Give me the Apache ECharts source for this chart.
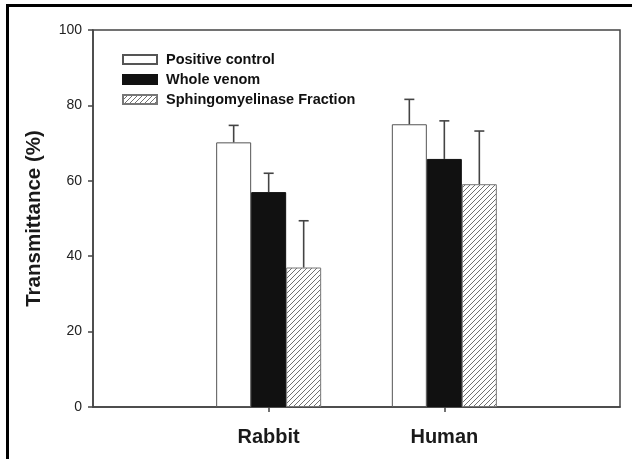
<!DOCTYPE html>
<html>
<head>
<meta charset="utf-8">
<script src="https://cdn.jsdelivr.net/npm/echarts@6/dist/echarts.min.js"></script>
<style>
  html, body { margin: 0; padding: 0; background: #fff; }
  #frame { position: absolute; left: 6px; top: 4px; width: 640px; height: 470px;
           border-left: 3px solid #000; border-top: 3px solid #000; }
  #chart { position: absolute; left: 0; top: 0; width: 632px; height: 459px; }
</style>
</head>
<body>
<div id="frame"></div>
<div id="chart"></div>
<script>
// groups on the x axis
const categories = ['Rabbit', 'Human'];
const seriesNames = ['Positive control', 'Whole venom', 'Sphingomyelinase Fraction'];
// means (%) per group
const positiveControl = [70.2, 75.0];
const wholeVenom = [57.0, 65.8];
const sphingoFraction = [37.0, 59.1];
// upper error (SD)
const positiveControlErr = [4.5, 6.6];
const wholeVenomErr = [5.0, 10.1];
const sphingoFractionErr = [12.4, 14.1];
const yTicks = [0, 20, 40, 60, 80, 100];

const barW = 35;

// diagonal hatch pattern for the fraction bars
function hatch() {
    const c = document.createElement('canvas');
    c.width = 5; c.height = 5;
    const ctx = c.getContext('2d');
    ctx.fillStyle = '#fff';
    ctx.fillRect(0, 0, 5, 5);
    ctx.strokeStyle = '#707070';
    ctx.lineWidth = 1;
    ctx.beginPath();
    ctx.moveTo(-1, 6); ctx.lineTo(6, -1);
    ctx.moveTo(-1, 1); ctx.lineTo(1, -1);
    ctx.moveTo(4, 6); ctx.lineTo(6, 4);
    ctx.stroke();
    return c;
}

// axis gets an empty slot on each side so the groups sit at 1/3 and 2/3
const axisData = [''].concat(categories, ['']);
const pad = (arr) => ['-'].concat(arr, ['-']);

const means = [positiveControl, wholeVenom, sphingoFraction];
const errs = [positiveControlErr, wholeVenomErr, sphingoFractionErr];
const styles = [
    { color: '#ffffff', borderColor: '#555', borderWidth: 1 },
    { color: '#111111', borderColor: '#111', borderWidth: 1 },
    { color: { image: hatch(), repeat: 'repeat' }, borderColor: '#777', borderWidth: 1 }
];

const series = [];
seriesNames.forEach((name, i) => {
    series.push({
        name: name,
        type: 'bar',
        barWidth: barW,
        barGap: '0%',
        itemStyle: styles[i],
        data: pad(means[i]),
        z: 2
    });
});
seriesNames.forEach((name, i) => {
    const offset = (i - 1) * barW;
    series.push({
        type: 'custom',
        z: 3,
        silent: true,
        data: categories.map((c, j) => [j + 1, means[i][j], errs[i][j]]),
        renderItem: (params, api) => {
            const base = api.coord([api.value(0), api.value(1)]);
            const tip = api.coord([api.value(0), api.value(1) + api.value(2)]);
            const x = base[0] + offset;
            const st = { stroke: '#444', lineWidth: 1.6 };
            return {
                type: 'group',
                children: [
                    { type: 'line', shape: { x1: x, y1: base[1], x2: x, y2: tip[1] }, style: st },
                    { type: 'line', shape: { x1: x - 5, y1: tip[1], x2: x + 5, y2: tip[1] }, style: st }
                ]
            };
        }
    });
});

const chart = echarts.init(document.getElementById('chart'));
chart.setOption({
    animation: false,
    textStyle: { fontFamily: '"Liberation Sans", Arial, sans-serif' },
    grid: {
        left: 93, right: 12, top: 30, bottom: 52,
        show: true, borderColor: '#444', borderWidth: 1.5
    },
    legend: {
        orient: 'vertical',
        left: 117,
        top: 47,
        icon: 'rect',
        itemWidth: 34,
        itemHeight: 9,
        itemGap: 5,
        data: seriesNames,
        textStyle: { fontSize: 14.5, lineHeight: 14, fontWeight: 'bold', color: '#111', padding: [0, 0, 0, 4] }
    },
    xAxis: {
        type: 'category',
        data: axisData,
        boundaryGap: false,
        axisLine: { lineStyle: { color: '#444', width: 1.5 } },
        axisTick: { length: 5, lineStyle: { color: '#444', width: 1.5 }, interval: (i) => i === 1 || i === 2 },
        axisLabel: {
            interval: (i) => i === 1 || i === 2,
            fontSize: 20, fontWeight: 'bold', color: '#1a1a1a', margin: 20
        },
        splitLine: { show: false }
    },
    yAxis: {
        type: 'value',
        min: yTicks[0],
        max: yTicks[yTicks.length - 1],
        interval: 20,
        name: 'Transmittance (%)',
        nameLocation: 'middle',
        nameGap: 48,
        nameTextStyle: { fontSize: 20.5, fontWeight: 'bold', color: '#1a1a1a' },
        axisLine: { show: true, lineStyle: { color: '#444', width: 1.5 } },
        axisTick: { show: true, length: 5, lineStyle: { color: '#444', width: 1.5 } },
        axisLabel: { fontSize: 14, color: '#222', margin: 11 },
        splitLine: { show: false }
    },
    series: series
});
</script>
</body>
</html>
